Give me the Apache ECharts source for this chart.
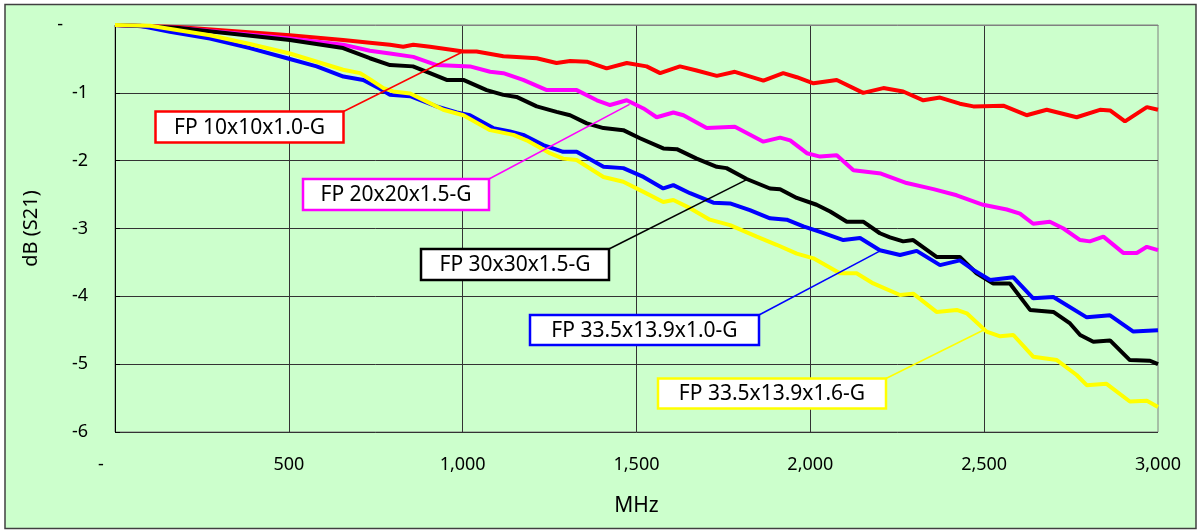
<!DOCTYPE html>
<html>
<head>
<meta charset="utf-8">
<script src="https://cdn.jsdelivr.net/npm/echarts@6/dist/echarts.min.js"></script>
<style>
html,body{margin:0;padding:0;background:#fff;}
#chart{width:1199px;height:530px;}
</style>
</head>
<body>
<div id="chart"></div>
<script>
// ---- data (MHz, dB) ----
const fp10x10 = [[0,0],[178,-0.03],[503,-0.15],[656,-0.22],[733,-0.26],[791,-0.29],[829,-0.32],[858,-0.29],[906,-0.32],[1002,-0.39],[1040,-0.39],[1117,-0.46],[1155,-0.47],[1213,-0.49],[1270,-0.56],[1309,-0.53],[1357,-0.54],[1414,-0.64],[1472,-0.56],[1529,-0.61],[1568,-0.71],[1625,-0.61],[1673,-0.67],[1731,-0.75],[1783,-0.69],[1865,-0.82],[1922,-0.71],[1961,-0.77],[2009,-0.86],[2076,-0.81],[2152,-1.00],[2210,-0.93],[2267,-0.98],[2325,-1.11],[2373,-1.07],[2430,-1.16],[2469,-1.20],[2555,-1.19],[2622,-1.33],[2680,-1.25],[2766,-1.36],[2833,-1.25],[2862,-1.26],[2905,-1.42],[2968,-1.21],[3000,-1.25]];
const fp20x20 = [[0,0],[178,-0.04],[503,-0.20],[656,-0.29],[733,-0.38],[791,-0.42],[858,-0.47],[925,-0.59],[1021,-0.61],[1079,-0.69],[1117,-0.71],[1174,-0.81],[1242,-0.96],[1328,-0.96],[1386,-1.11],[1424,-1.18],[1472,-1.11],[1520,-1.23],[1558,-1.36],[1606,-1.29],[1635,-1.33],[1702,-1.52],[1783,-1.50],[1865,-1.72],[1913,-1.66],[1942,-1.70],[1990,-1.89],[2028,-1.94],[2076,-1.92],[2124,-2.14],[2203,-2.19],[2277,-2.33],[2354,-2.42],[2421,-2.51],[2497,-2.65],[2565,-2.72],[2603,-2.78],[2641,-2.93],[2689,-2.90],[2728,-3.00],[2776,-3.17],[2804,-3.19],[2843,-3.12],[2900,-3.36],[2939,-3.36],[2968,-3.27],[3000,-3.32]];
const fp30x30 = [[0,0],[178,-0.04],[503,-0.22],[656,-0.34],[733,-0.49],[791,-0.59],[857,-0.61],[906,-0.71],[954,-0.81],[1002,-0.81],[1069,-0.96],[1117,-1.03],[1155,-1.06],[1213,-1.20],[1270,-1.28],[1309,-1.33],[1357,-1.45],[1405,-1.52],[1462,-1.55],[1510,-1.67],[1577,-1.82],[1616,-1.83],[1673,-1.97],[1731,-2.09],[1759,-2.11],[1817,-2.27],[1884,-2.41],[1913,-2.42],[1961,-2.55],[2018,-2.65],[2057,-2.75],[2105,-2.90],[2152,-2.90],[2200,-3.07],[2229,-3.13],[2267,-3.19],[2296,-3.17],[2363,-3.42],[2430,-3.42],[2478,-3.66],[2526,-3.81],[2574,-3.81],[2632,-4.20],[2699,-4.23],[2747,-4.40],[2776,-4.57],[2814,-4.67],[2862,-4.65],[2919,-4.94],[2977,-4.95],[3000,-5.00]];
const fp335x139x10 = [[0,0],[72,-0.01],[158,-0.10],[273,-0.20],[388,-0.34],[495,-0.49],[580,-0.61],[657,-0.76],[714,-0.81],[762,-0.94],[791,-1.03],[849,-1.05],[925,-1.20],[983,-1.29],[1021,-1.33],[1088,-1.52],[1136,-1.57],[1174,-1.62],[1232,-1.77],[1289,-1.87],[1328,-1.87],[1405,-2.09],[1462,-2.11],[1520,-2.24],[1577,-2.41],[1606,-2.36],[1654,-2.48],[1721,-2.62],[1769,-2.63],[1826,-2.73],[1884,-2.85],[1932,-2.87],[1980,-2.97],[2028,-3.05],[2095,-3.17],[2143,-3.14],[2200,-3.32],[2258,-3.39],[2306,-3.33],[2373,-3.54],[2430,-3.47],[2469,-3.61],[2517,-3.76],[2584,-3.72],[2641,-4.03],[2699,-4.01],[2795,-4.31],[2862,-4.28],[2929,-4.52],[3000,-4.50]];
const fp335x139x16 = [[0,0],[101,-0.01],[273,-0.15],[388,-0.28],[503,-0.42],[656,-0.66],[705,-0.71],[733,-0.80],[772,-0.93],[800,-0.98],[849,-1.01],[897,-1.13],[944,-1.25],[1002,-1.33],[1079,-1.55],[1146,-1.62],[1184,-1.70],[1251,-1.89],[1289,-1.97],[1328,-1.99],[1405,-2.24],[1462,-2.31],[1520,-2.46],[1577,-2.61],[1606,-2.58],[1654,-2.70],[1711,-2.87],[1769,-2.95],[1846,-3.12],[1903,-3.24],[1961,-3.37],[2009,-3.44],[2085,-3.66],[2133,-3.66],[2181,-3.81],[2258,-3.98],[2296,-3.96],[2363,-4.23],[2421,-4.20],[2450,-4.25],[2507,-4.52],[2546,-4.59],[2584,-4.57],[2641,-4.89],[2709,-4.94],[2766,-5.16],[2795,-5.31],[2852,-5.29],[2919,-5.55],[2968,-5.54],[3000,-5.63]];

const seriesNames = ['FP 10x10x1.0-G','FP 20x20x1.5-G','FP 30x30x1.5-G','FP 33.5x13.9x1.0-G','FP 33.5x13.9x1.6-G'];
const seriesData = [fp10x10, fp20x20, fp30x30, fp335x139x10, fp335x139x16];
const seriesColors = ['#FF0000','#FF00FF','#000000','#0000FF','#FFFF00'];
// points on each curve where the callout leader line ends (MHz, dB)
const calloutAnchors = [[1002,-0.39],[1480,-1.17],[1817,-2.28],[2205,-3.32],[2497,-4.50]];
const xTicks = {min:0, max:3000, interval:500};
const yTicks = {min:-6, max:0, interval:1};

// ---- layout ----
const calloutBoxes = [
  {x:155.5, y:111.5, w:188, h:31},
  {x:303, y:179, w:186, h:31},
  {x:421, y:249, w:188, h:31},
  {x:530, y:315, w:229, h:30},
  {x:658, y:378.5, w:228, h:30}
];
const FONT = '"Noto Sans", sans-serif';

const chart = echarts.init(document.getElementById('chart'), null, {renderer:'canvas'});

const option = {
  animation: false,
  backgroundColor: '#ffffff',
  textStyle: {fontFamily: FONT},
  grid: {left:115, right:41, top:25, bottom:98, show:true, borderColor:'#808080', borderWidth:1, backgroundColor:'transparent'},
  xAxis: {
    type:'value', min:xTicks.min, max:xTicks.max, interval:xTicks.interval,
    name:'MHz', nameLocation:'middle', nameGap:64,
    nameTextStyle:{fontFamily:FONT, fontSize:21, color:'#000'},
    axisLine:{show:true, lineStyle:{color:'#808080', width:1}},
    axisTick:{show:false},
    splitLine:{show:true, showMaxLine:false, lineStyle:{color:'#333333', width:1}},
    axisLabel:{
      margin:24, fontFamily:FONT, fontSize:18, color:'#000',
      formatter: v => v === 0 ? '{z|-}' : v.toLocaleString('en-US'),
      rich:{z:{fontFamily:FONT, fontSize:18, color:'#000', padding:[0,28,0,0]}}
    }
  },
  yAxis: {
    type:'value', min:yTicks.min, max:yTicks.max, interval:yTicks.interval,
    name:'dB (S21)', nameLocation:'middle', nameGap:74, nameRotate:90,
    nameTextStyle:{fontFamily:FONT, fontSize:20, color:'#000'},
    axisLine:{show:true, onZero:false, lineStyle:{color:'#000', width:1}},
    axisTick:{show:true, inside:true, length:5, lineStyle:{color:'#000'}},
    splitLine:{show:true, showMaxLine:false, lineStyle:{color:'#333333', width:1}},
    axisLabel:{
      margin:27, fontFamily:FONT, fontSize:18, color:'#000',
      formatter: v => v === 0 ? '{z|-}' : String(v),
      rich:{z:{fontFamily:FONT, fontSize:18, color:'#000', padding:[0,25,0,0]}}
    }
  },
  series: seriesNames.map((n,i) => ({
    name:n, type:'line', data:seriesData[i], showSymbol:false, symbol:'none',
    lineStyle:{color:seriesColors[i], width:4}, itemStyle:{color:seriesColors[i]},
    z: 2 + i
  }))
};
chart.setOption(option);

// callouts: box + leader line to a point on the curve
const elements = [{
  type:'rect', z:-100, silent:true,
  shape:{x:5, y:4.5, width:1191, height:524},
  style:{fill:'#CCFFCC', stroke:'#404040', lineWidth:1.5}
}];
calloutBoxes.forEach((b,i) => {
  const p = chart.convertToPixel({gridIndex:0}, calloutAnchors[i]);
  elements.push({
    type:'line', z:50, silent:true,
    shape:{x1:b.x+b.w, y1:b.y, x2:p[0], y2:p[1]},
    style:{stroke: seriesColors[i] === '#000000' ? '#000' : seriesColors[i], lineWidth:1.5}
  });
  elements.push({
    type:'rect', z:51, silent:true,
    shape:{x:b.x, y:b.y, width:b.w, height:b.h},
    style:{fill:'#ffffff', stroke:seriesColors[i], lineWidth:2.5}
  });
  elements.push({
    type:'text', z:52, silent:true,
    x:b.x + b.w/2, y:b.y + b.h/2 + 1,
    style:{text:seriesNames[i], fill:'#000', font:'21px "Noto Sans", sans-serif', align:'center', verticalAlign:'middle'}
  });
});
chart.setOption({graphic:{elements}});
</script>
</body>
</html>
